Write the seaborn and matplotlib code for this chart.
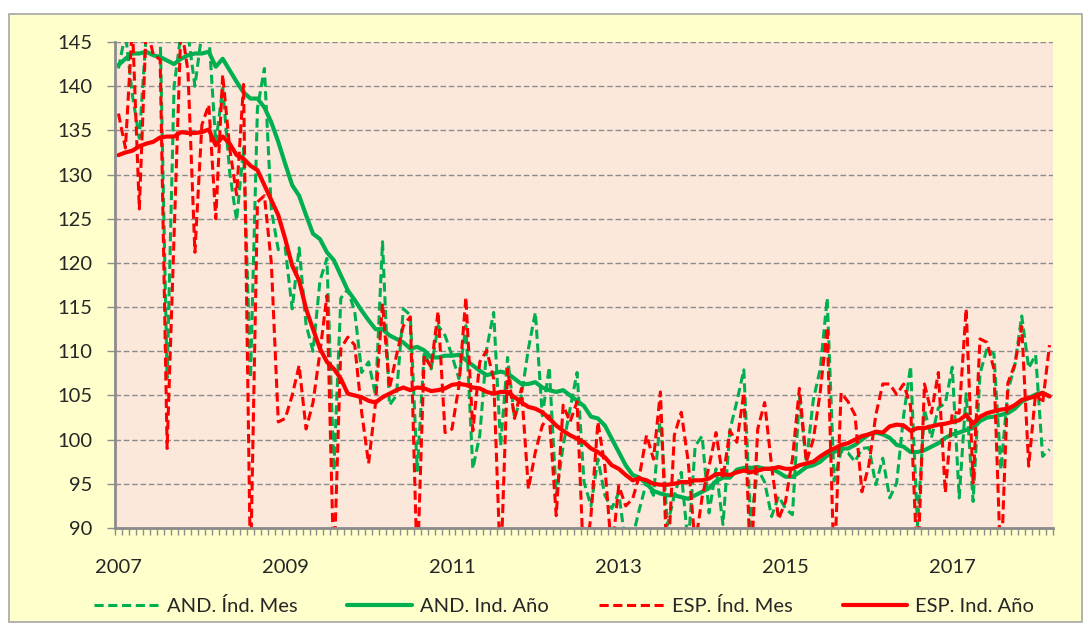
import numpy as np
import pandas as pd
import seaborn as sns
import matplotlib.pyplot as plt
from matplotlib.patches import Rectangle

# monthly index, Jan 2007 .. Mar 2018
months = pd.date_range("2007-01-01", periods=135, freq="MS")
year_labels = ["2007", "2009", "2011", "2013", "2015", "2017"]

and_mes = [
    142, 146, 139, 134.1, 146, 146, 146, 107, 140, 146, 146, 140,
    146, 146, 133.5, 139.8, 130.3, 124.8, 133, 107, 137.5, 142, 126, 121.5,
    121.7, 114.8, 121.7, 113, 110, 118, 120.5, 96.5, 116, 117, 114.5, 107.6,
    108.8, 105, 122.4, 103.9, 105, 114.8, 114.1, 96.5, 109.9, 108,
    112.9, 111.8, 109.5, 106.9, 112.9, 96.7, 100.5, 110.3, 114.4, 99.3, 109.3, 102.4,
    105, 110.3, 114.4, 102.7, 108.2, 93.7, 99.3, 103.5, 107.6, 95.2, 92.5,
    97.8, 93.7, 92.2, 94, 88, 89, 92.2, 95.2, 93.7, 102.7, 90.3, 93.7,
    96.3, 88, 99.3, 100.4, 91.7, 96.7, 90.4, 101.1, 104.3, 107.9,
    90.3, 96.7, 95.2, 91.3, 93.6, 92.2, 91.5, 104.9, 97.4, 104.5, 108, 116,
    95.3, 98.7, 98.5, 97.5, 99.0, 99.1, 94.9, 97.9, 93.4, 95.1, 102.7, 108.3,
    90.3, 103.4, 100.2, 103.6, 104.1, 108.2, 93.4, 105.2, 93.0, 107.5, 110.3, 109.7,
    96.6, 105.5, 108.4, 114.0, 108.1, 109.6, 98.1, 98.9,
]

and_anio = [
    142.4, 143.1, 143.7, 143.7, 143.9, 143.5, 143.3, 142.9, 142.5, 143.1, 143.5, 143.7,
    143.7, 143.9, 142.2, 143.1, 141.8, 140.5, 139.3, 138.6, 138.6, 137.6, 135.9, 133.7,
    131.2, 128.8, 127.6, 125.4, 123.3, 122.7, 121.2, 120.3, 118.6, 116.9, 115.8, 114.6,
    113.5, 112.5, 112.5, 111.8, 111.4, 111.0, 110.3, 110.5, 110.1, 109.3,
    109.3, 109.5, 109.5, 109.6, 109.0, 108.4, 107.8, 107.3, 107.5, 107.7, 107.5, 106.9,
    106.3, 106.3, 106.5, 105.9, 105.6, 105.4, 105.6, 105.0, 104.4, 103.8, 102.6,
    102.4, 101.6, 100.1, 98.6, 97.1, 96.0, 95.7, 95.0, 94.2, 93.9, 93.7, 93.7,
    93.5, 93.3, 93.7, 94.1, 94.5, 95.3, 95.7, 95.7, 96.6, 96.8, 96.8,
    96.9, 96.7, 96.7, 96.3, 95.8, 95.8, 96.3, 96.9, 97.1, 97.5, 98.2, 98.6,
    99.0, 99.0, 99.4, 100.0, 100.6, 100.8, 100.6, 100.2, 99.4, 99.2, 98.6,
    98.6, 98.8, 99.2, 99.6, 100.2, 100.6, 100.8, 101.1, 101.3, 102.1, 102.5, 102.6,
    102.8, 103.0, 103.5, 104.3, 104.7, 105.1, 105.3, 104.9,
]

esp_mes = [
    136.9, 133.0, 147, 126.1, 147, 143.6, 143.0, 99.0, 123, 147, 141.7, 121.2,
    135.6, 137.9, 125.0, 141.3, 133, 127.7, 140.2, 85, 126.9, 127.6, 120, 102.0,
    102.4, 105.0, 108.4, 101.2, 104.2, 109.9, 116.3, 85, 110.3, 111.6, 110.7, 103.1,
    97.3, 104.2, 115.4, 105.8, 109.5, 112.9, 113.9, 85, 109.5, 108.2,
    114.5, 100.8, 101.2, 106.1, 116.1, 101, 108.8, 110.1, 106.9, 85, 108, 102.4,
    105.8, 94.4, 98.6, 101.6, 102.7, 91.4, 103.9, 102, 104.3, 85, 91.4,
    102, 97, 87, 94.8, 92.5, 93.3, 96, 100.5, 97.8, 105.4, 85, 100.5,
    103.1, 97.5, 88, 93.5, 97, 100.8, 95.6, 101.0, 99.7, 105.3,
    85, 101.2, 104.2, 97, 91, 93, 97.8, 105.8, 97.5, 100, 105.4, 112.7,
    85, 105.3, 104.3, 102.8, 94.1, 97.1, 102.8, 106.3, 106.3, 105.1, 106.3, 103.8,
    85, 106.3, 103.0, 107.6, 94.0, 103.1, 103, 114.8, 95.1, 111.4, 111.0, 108.0,
    85, 106.4, 108.5, 112.8, 97.0, 105.3, 104.1, 110.7,
]

esp_anio = [
    132.2, 132.5, 132.7, 133.2, 133.5, 133.7, 134.2, 134.3, 134.3, 134.8, 134.7, 134.7,
    134.8, 135.1, 133.3, 134.3, 133.5, 132.2, 131.8, 131.0, 130.5, 128.8, 127.1, 125.4,
    122.7, 119.7, 118.0, 114.8, 112.5, 110.3, 108.8, 108.0, 106.9, 105.2, 105.0, 104.8,
    104.4, 104.2, 104.8, 105.2, 105.6, 105.9, 105.6, 105.9, 105.8, 105.5,
    105.6, 105.8, 106.2, 106.3, 106.2, 105.9, 105.8, 105.4, 105.2, 105.4, 105.4, 104.8,
    104.2, 103.7, 103.5, 103.1, 102.4, 101.6, 101.0, 100.5, 100.1, 99.7, 99.0,
    98.6, 98.0, 97.1, 96.7, 96.0, 95.4, 95.6, 95.4, 95.0, 94.9, 94.9, 95.0,
    95.2, 95.2, 95.4, 95.4, 95.6, 96.1, 96.1, 96.0, 96.3, 96.5, 96.3,
    96.5, 96.7, 96.7, 96.9, 96.7, 96.7, 97.1, 97.3, 97.5, 98.1, 98.6, 99.0,
    99.4, 99.6, 100.0, 100.4, 100.6, 100.9, 100.8, 101.5, 101.7, 101.6, 101.0,
    101.3, 101.3, 101.5, 101.7, 101.8, 102.0, 102.2, 102.8, 101.8, 102.6, 103.0, 103.2,
    103.4, 103.5, 103.9, 104.5, 104.7, 104.9, 105.3, 104.9,
]

sns.set_theme(style="white")
plt.rcParams["font.family"] = ["Lato", "DejaVu Sans"]

GREEN = "#00B050"
RED = "#FF0000"
pos = np.arange(len(months))

fig = plt.figure(figsize=(10.91, 6.28), dpi=100, facecolor="white")
fig.patches.append(Rectangle((9 / 1091, 6 / 628), 1073 / 1091, 608 / 628,
                             transform=fig.transFigure, facecolor="#FFFFCC",
                             edgecolor="#A6A6A6", linewidth=1.2, zorder=-10))
ax = fig.add_axes([115 / 1091, 1 - 528 / 628, 938 / 1091, 486 / 628])
ax.set_facecolor("#FCE8DA")

# dashed monthly series, solid annual series
dash = (0, (3.0, 1.5))
sns.lineplot(x=pos, y=and_mes, ax=ax, color=GREEN, linewidth=2.2,
             linestyle=dash, label="AND. Índ. Mes")
sns.lineplot(x=pos, y=and_anio, ax=ax, color=GREEN, linewidth=3.0,
             label="AND. Ind. Año")
sns.lineplot(x=pos, y=esp_mes, ax=ax, color=RED, linewidth=2.2,
             linestyle=dash, label="ESP. Índ. Mes")
sns.lineplot(x=pos, y=esp_anio, ax=ax, color=RED, linewidth=3.0,
             label="ESP. Ind. Año")

ax.set_xlim(-0.5, len(months) - 0.5)
ax.set_ylim(90, 145)
ax.set_yticks(np.arange(90, 146, 5))
ax.set_xticks(np.arange(0, len(months), 24))
ax.set_xticklabels(year_labels)
ax.set_xticks(np.arange(-0.5, len(months), 1), minor=True)
ax.set_xlabel("")
ax.set_ylabel("")

ax.yaxis.grid(True, color="#8C8C8C", linestyle=(0, (4, 2)), linewidth=1.0)
ax.xaxis.grid(False)
ax.set_axisbelow(True)

for side in ["top", "right"]:
    ax.spines[side].set_visible(False)
for side in ["left", "bottom"]:
    ax.spines[side].set_color("#8C8C8C")
    ax.spines[side].set_linewidth(2)

ax.tick_params(axis="y", which="major", direction="out", length=6, width=1,
               color="#8C8C8C", labelsize=14.5, pad=10, left=True)
ax.tick_params(axis="x", which="major", length=0, labelsize=14.5, pad=22)
ax.tick_params(axis="x", which="minor", direction="out", length=5, width=1,
               color="#8C8C8C", bottom=True)

handles, labels = ax.get_legend_handles_labels()
ax.get_legend().remove()
fig.legend(handles, labels, loc="center", bbox_to_anchor=(0.517, 1 - 606 / 628),
           ncol=4, frameon=False, fontsize=14.5, handlelength=3.2,
           handletextpad=0.4, columnspacing=2.5)

fig.savefig("out.png", dpi=100, facecolor=fig.get_facecolor())
plt.close(fig)
